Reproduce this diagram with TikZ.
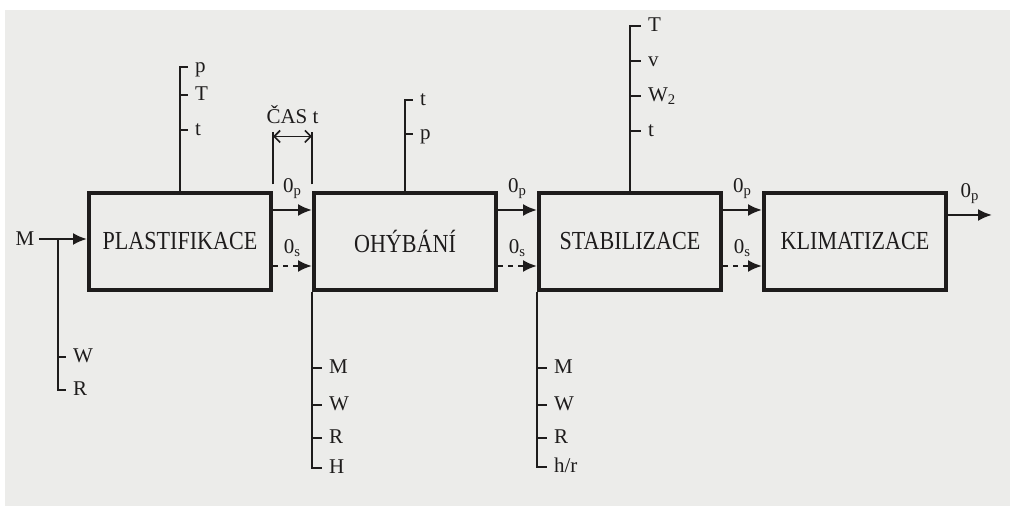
\documentclass[tikz,border=0pt]{standalone}
\usepackage{fontspec}
\setmainfont{Liberation Serif}
\newfontfamily\boxfont[FakeStretch=0.85]{Liberation Serif}
\usetikzlibrary{positioning,arrows.meta}
\definecolor{papir}{RGB}{236,236,234}
\definecolor{ink}{RGB}{30,28,28}

\begin{document}
\begin{tikzpicture}[%
    x=0.5pt, y=-0.5pt, ink, line width=1.1pt,
    node distance=19.5pt,
    blok/.style={draw, line width=2pt, minimum width=91pt, minimum height=48.5pt,
      inner sep=0pt, font=\boxfont\fontsize{13}{15}\selectfont},
    lab/.style={anchor=west, inner xsep=3pt, inner ysep=0pt, text height=1.6ex,
      text depth=0.4ex, font=\fontsize{10.5}{12}\selectfont},
    tok/.style={font=\fontsize{10.5}{12}\selectfont, inner sep=2pt},
    sip/.style={-{Latex[length=7pt,width=6pt]}},
    sipd/.style={sip, dash pattern=on 2.5pt off 2.5pt},
    cas/.style={{Straight Barb[length=3pt,width=6pt]}-{Straight Barb[length=3pt,width=6pt]},
      line width=0.8pt}]
  \useasboundingbox (0,0) rectangle (1010,506);
  \fill[white] (0,0) rectangle (1010,506);
  \fill[papir] (5,10) rectangle (1010,506);

  \node[blok] (pl) at (180,241.5) {PLASTIFIKACE};
  \node[blok, right=of pl] (oh) {OHÝBÁNÍ};
  \node[blok, right=of oh] (st) {STABILIZACE};
  \node[blok, right=of st] (kl) {KLIMATIZACE};

  % vstup materialu
  \node[tok] (M) at (25,239) {M};
  \coordinate (mb) at (58,239);
  \node[lab] (MW) at (66,357) {W};
  \node[lab] (MR) at (66,390) {R};
  \draw[sip] (M) -- (M -| pl.west);
  \draw (mb) |- (MW.west);
  \draw (mb) |- (MR.west);

  % plastifikace
  \node[lab] (pp) at (188,67) {p};
  \node[lab] (pT) at (188,95) {T};
  \node[lab] (pt) at (188,130) {t};
  \draw (pl.north) |- (pp.west);
  \draw (pl.north) |- (pT.west);
  \draw (pl.north) |- (pt.west);

  % cas
  \coordinate (ca) at ([yshift=3.25pt]pl.north east);
  \coordinate (cb) at ([yshift=3.25pt]oh.north west);
  \coordinate (ca2) at ([yshift=26pt]ca);
  \coordinate (cb2) at ([yshift=26pt]cb);
  \draw[line width=0.8pt] (ca) -- (ca2);
  \draw[line width=0.8pt] (cb) -- (cb2);
  \draw[cas] ([yshift=-2pt]ca2) -- node[tok, above=4pt] (ct) {ČAS t} ([yshift=-2pt]cb2);

  % ohybani
  \node[lab] (ot) at (413,100) {t};
  \node[lab] (op) at (413,134) {p};
  \draw (oh.north) |- (ot.west);
  \draw (oh.north) |- (op.west);
  \node[lab] (oM) at (322,368) {M};
  \node[lab] (oW) at (322,405) {W};
  \node[lab] (oR) at (322,438) {R};
  \node[lab] (oH) at (322,468) {H};
  \draw (oh.south west) |- (oM.west);
  \draw (oh.south west) |- (oW.west);
  \draw (oh.south west) |- (oR.west);
  \draw (oh.south west) |- (oH.west);

  % stabilizace
  \node[lab] (sT) at (641,26) {T};
  \node[lab] (sv) at (641,61) {v};
  \node[lab] (sW) at (641,96) {W\textsubscript{2}};
  \node[lab] (st2) at (641,131) {t};
  \draw (st.north) |- (sT.west);
  \draw (st.north) |- (sv.west);
  \draw (st.north) |- (sW.west);
  \draw (st.north) |- (st2.west);
  \node[lab] (sM) at (547,368) {M};
  \node[lab] (sW2) at (547,405) {W};
  \node[lab] (sR) at (547,438) {R};
  \node[lab] (sh) at (547,467) {h/r};
  \draw (st.south west) |- (sM.west);
  \draw (st.south west) |- (sW2.west);
  \draw (st.south west) |- (sR.west);
  \draw (st.south west) |- (sh.west);

  % toky mezi operacemi
  \draw[sip] ([yshift=15.75pt]pl.east) -- node[tok, above=3pt] (p1) {0\textsubscript{p}} ([yshift=15.75pt]oh.west);
  \draw[sipd] ([yshift=-12.25pt]pl.east) -- node[tok, above=2pt] (s1) {0\textsubscript{s}} ([yshift=-12.25pt]oh.west);
  \draw[sip] ([yshift=15.75pt]oh.east) -- node[tok, above=3pt] (p2) {0\textsubscript{p}} ([yshift=15.75pt]st.west);
  \draw[sipd] ([yshift=-12.25pt]oh.east) -- node[tok, above=2pt] (s2) {0\textsubscript{s}} ([yshift=-12.25pt]st.west);
  \draw[sip] ([yshift=15.75pt]st.east) -- node[tok, above=3pt] (p3) {0\textsubscript{p}} ([yshift=15.75pt]kl.west);
  \draw[sipd] ([yshift=-12.25pt]st.east) -- node[tok, above=2pt] (s3) {0\textsubscript{s}} ([yshift=-12.25pt]kl.west);
  \coordinate (out) at ([xshift=22pt, yshift=13.25pt]kl.east);
  \draw[sip] ([yshift=13.25pt]kl.east) -- node[tok, above=3pt] (p4) {0\textsubscript{p}} (out);
\end{tikzpicture}
\end{document}
